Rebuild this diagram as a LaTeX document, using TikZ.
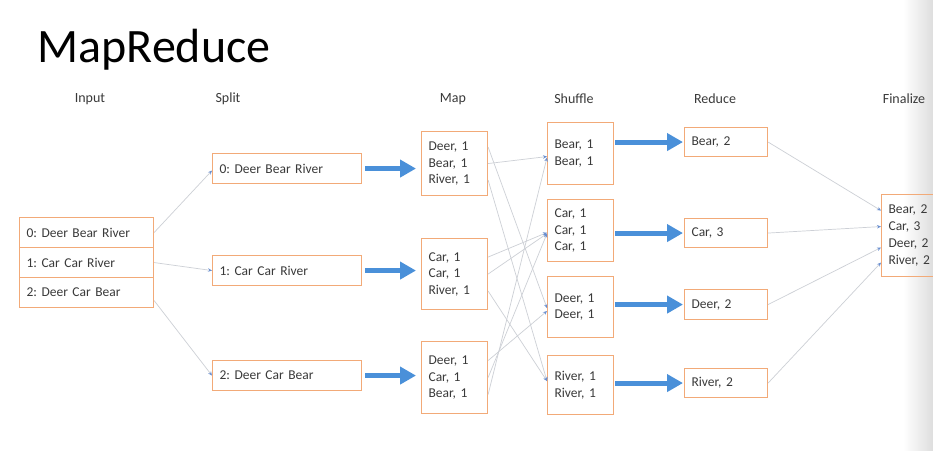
\documentclass[tikz,border=0pt]{standalone}
\usepackage{fontspec}
\setmainfont{Carlito}
\usetikzlibrary{arrows.meta,calc}
\definecolor{boxorange}{HTML}{F2AA78}
\definecolor{bigblue}{HTML}{4A90D9}
\definecolor{thinline}{HTML}{CDD0D6}
\definecolor{tipblue}{HTML}{6A8FD0}
\definecolor{txt}{HTML}{3A3A3A}
\tikzset{
  box/.style 2 args={draw=boxorange, line width=1.1pt, inner xsep=7pt, inner ysep=0pt,
    minimum width=#1pt, text width=#1pt-14pt, minimum height=#2pt, align=left,
    anchor=north west, text=txt, font=\fontsize{13.5}{16.5}\selectfont},
  head/.style={font=\fontsize{14}{16}\selectfont, anchor=center, text=txt},
  bigarrow/.style={draw=bigblue, line width=5pt, -{Triangle[length=16pt,width=17pt]}},
  thin/.style={draw=thinline, line width=0.7pt, -{Stealth[length=4pt,width=3.5pt,color=tipblue]}}
}
\begin{document}
\frenchspacing
\begin{tikzpicture}[x=1pt,y=-1pt]
\useasboundingbox (0,0) rectangle (933,450);
\fill[white] (0,0) rectangle (933,450);
\shade[left color=white, right color=black!13] (903,0) rectangle (933,450);

\node[font=\fontsize{48}{50}\selectfont, anchor=base west] (title) at (34,62) {MapReduce};

\node[head] (hin) at (90,99) {Input};
\node[head] (hsp) at (228,99) {Split};
\node[head] (hmp) at (453,99) {Map};
\node[head] (hsh) at (574,99) {Shuffle};
\node[head] (hrd) at (715,99) {Reduce};
\node[head] (hfn) at (904,99) {Finalize};

% Input
\node[box={134}{30}] (in0) at (19,217) {0: Deer Bear River};
\node[box={134}{30}] (in1) at (19,247) {1: Car Car River};
\node[box={134}{30}] (in2) at (19,277) {2: Deer Car Bear};

% Split
\node[box={149}{30}] (sp0) at (212,153) {0: Deer Bear River};
\node[box={149}{30}] (sp1) at (212,255) {1: Car Car River};
\node[box={149}{30}] (sp2) at (212,360) {2: Deer Car Bear};

% Map
\node[box={66}{64}] (mp0) at (421,131) {Deer, 1\\Bear, 1\\River, 1};
\node[box={66}{71}] (mp1) at (421,238) {Car, 1\\Car, 1\\River, 1};
\node[box={66}{72}] (mp2) at (421,341) {Deer, 1\\Car, 1\\Bear, 1};

% Shuffle
\node[box={66}{62}] (sh0) at (547,122) {Bear, 1\\Bear, 1};
\node[box={66}{62}] (sh1) at (547,199) {Car, 1\\Car, 1\\Car, 1};
\node[box={66}{61}] (sh2) at (547,276) {Deer, 1\\Deer, 1};
\node[box={66}{59}] (sh3) at (547,355) {River, 1\\River, 1};

% Reduce
\node[box={83}{29}] (rd0) at (684,127) {Bear, 2};
\node[box={83}{29}] (rd1) at (684,218) {Car, 3};
\node[box={83}{30}] (rd2) at (684,289) {Deer, 2};
\node[box={83}{29}] (rd3) at (684,368) {River, 2};

% Finalize
\node[box={70}{82}, font=\fontsize{13.5}{17}\selectfont] (fn) at (881,194) {Bear, 2\\Car, 3\\Deer, 2\\River, 2};

% thin connectors
\draw[thin] (in0.east) -- ([yshift=-2pt]sp0.west);
\draw[thin] (in1.east) -- (sp1.west);
\draw[thin] ([yshift=-8pt]in2.east) -- (sp2.west);

\draw[thin] ([yshift=16.5pt]mp0.east) -- ([yshift=-1pt]sh2.west);
\draw[thin] (mp0.east) -- ([yshift=-3pt]sh0.west);
\draw[thin] ([yshift=-16.5pt]mp0.east) -- ([yshift=4pt]sh3.west);
\draw[thin] ([yshift=17pt]mp1.east) -- ([yshift=-2pt]sh1.west);
\draw[thin] (mp1.east) -- ([yshift=-3pt]sh1.west);
\draw[thin] ([yshift=-17pt]mp1.east) -- ([yshift=4pt]sh3.west);
\draw[thin] ([yshift=17pt]mp2.east) -- ([yshift=-4pt]sh2.west);
\draw[thin] (mp2.east) -- ([yshift=-3pt]sh1.west);
\draw[thin] ([yshift=-17pt]mp2.east) -- ([yshift=-4pt]sh0.west);

\draw[thin] (rd0.east) -- ([yshift=25pt]fn.west);
\draw[thin] (rd1.east) -- ([yshift=9pt]fn.west);
\draw[thin] (rd2.east) -- ([yshift=-12pt]fn.west);
\draw[thin] (rd3.east) -- ([yshift=-27pt]fn.west);

% thick arrows
\draw[bigarrow] ([xshift=3pt]sp0.east) -- ([xshift=-5pt]sp0.east -| mp0.west);
\draw[bigarrow] ([xshift=3pt]sp1.east) -- ([xshift=-5pt]sp1.east -| mp1.west);
\draw[bigarrow] ([xshift=3pt]sp2.east) -- ([xshift=-5pt]sp2.east -| mp2.west);
\draw[bigarrow] ([xshift=1pt]rd0.west -| sh0.east) -- ([xshift=-1pt]rd0.west);
\draw[bigarrow] ([xshift=1pt]rd1.west -| sh1.east) -- ([xshift=-1pt]rd1.west);
\draw[bigarrow] ([xshift=1pt]rd2.west -| sh2.east) -- ([xshift=-1pt]rd2.west);
\draw[bigarrow] ([xshift=1pt]rd3.west -| sh3.east) -- ([xshift=-1pt]rd3.west);
\end{tikzpicture}
\end{document}
